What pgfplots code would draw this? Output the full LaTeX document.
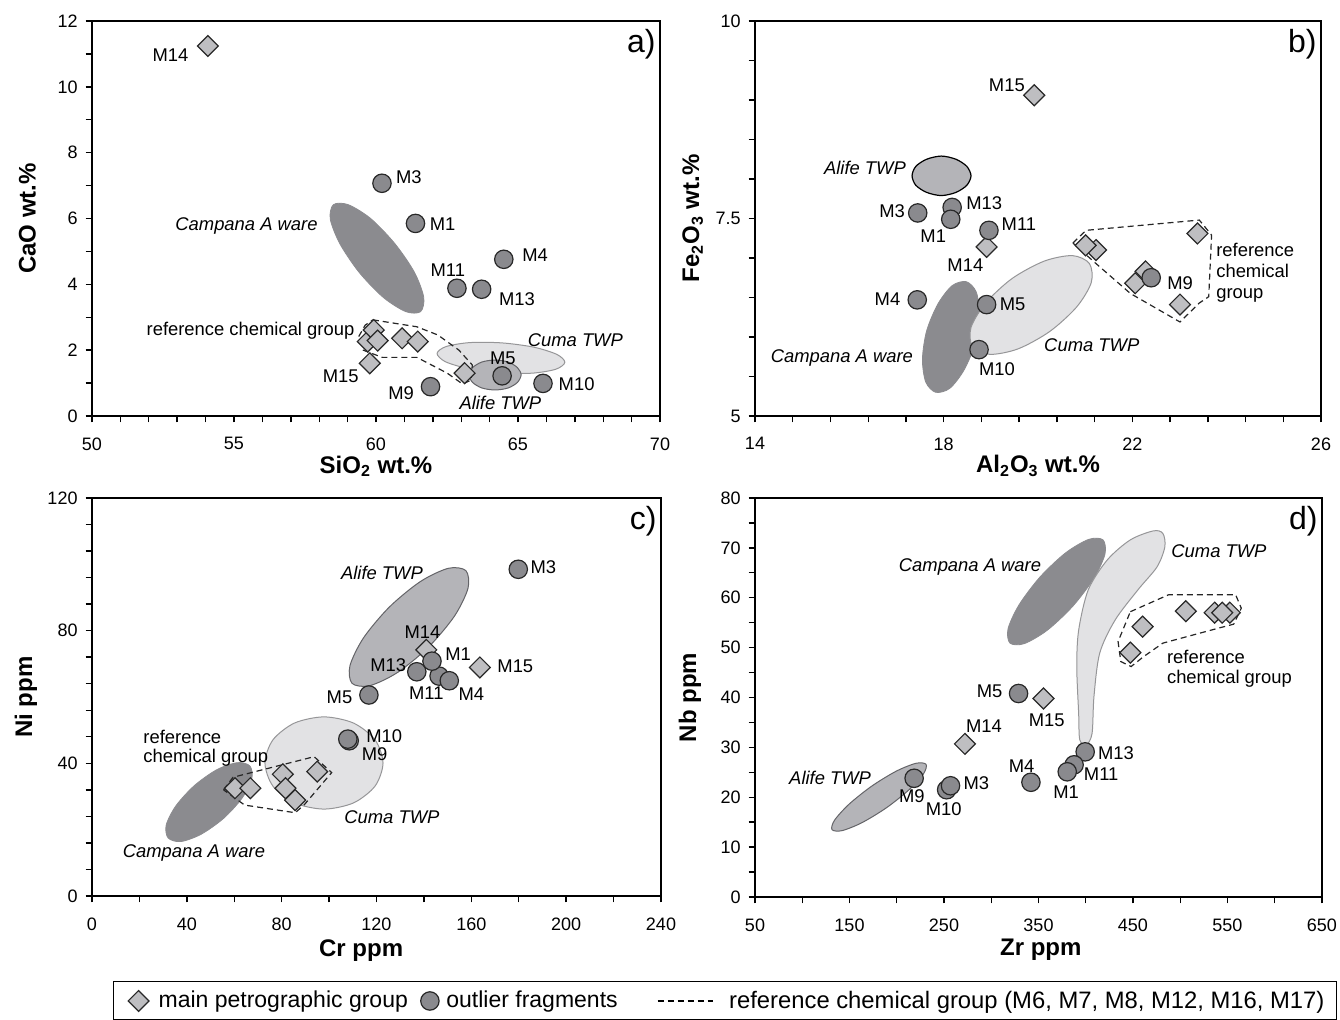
\documentclass[border=0pt]{standalone}
\usepackage{fontspec}
\setmainfont{Liberation Sans}
\usepackage{pgfplots}
\pgfplotsset{compat=1.18}
\definecolor{circfill}{RGB}{138,138,142}
\definecolor{diafill}{RGB}{190,190,193}
\definecolor{campana}{RGB}{139,139,143}
\definecolor{alife}{RGB}{180,180,184}
\definecolor{alifeedge}{RGB}{100,100,104}
\definecolor{cuma}{RGB}{226,226,228}
\definecolor{cumaedge}{RGB}{150,150,152}
\definecolor{edge}{RGB}{40,40,40}
\tikzset{
 lab/.style={font=\fontsize{9.2}{10.5}\selectfont, inner sep=1pt},
 ilab/.style={font=\itshape\fontsize{9.2}{10.5}\selectfont, inner sep=1pt},
 plab/.style={font=\fontsize{16}{18}\selectfont, inner sep=1pt},
}
\pgfplotsset{
 panel/.style={
   scale only axis,
   axis line style={line width=0.8pt},
   tick align=outside,
   tick pos=left,
   major tick length=3.2pt, minor tick length=3.2pt,
   every tick/.style={black, line width=0.7pt},
   ticklabel style={font=\fontsize{9}{11}\selectfont},
   xticklabel style={yshift=-4pt},
   yticklabel style={xshift=-0.5pt},
   /pgf/number format/assume math mode=true,
   label style={font=\bfseries\fontsize{12}{14}\selectfont},
 },
 dia/.style={only marks, mark=square*, mark size=3.7pt, mark options={rotate=45, fill=diafill, draw=edge, line width=0.6pt}, forget plot},
 circ/.style={only marks, mark=*, mark size=4.6pt, mark options={fill=circfill, draw=edge, line width=0.6pt}, forget plot},
 refgrp/.style={sharp plot, dash pattern=on 3pt off 2pt, line width=0.6pt, draw=black!85, forget plot},
 campanaS/.style={fill=campana, draw=campana, smooth cycle, forget plot},
 alifeS/.style={fill=alife, draw=alifeedge, line width=0.5pt, smooth cycle, forget plot},
 cumaS/.style={fill=cuma, draw=cumaedge, line width=0.5pt, smooth cycle, forget plot},
 legdia/.style={legend image code/.code={\path[draw=none,fill=none] (0pt,0pt) -- (16.5pt,0pt); \draw[##1] plot coordinates {(8.5pt,0pt)};}},
 legcirc/.style={legend image code/.code={\path[draw=none,fill=none] (0pt,0pt) -- (11.25pt,0pt); \draw[##1] plot coordinates {(5pt,0pt)};}},
 dashleg/.style={legend image code/.code={\path[draw=none,fill=none] (0pt,0pt) -- (47.75pt,0pt); \draw[##1] (14pt,0pt) -- (41.5pt,0pt);}},
}
\begin{document}
\begin{tikzpicture}
\useasboundingbox (0,0) rectangle (670pt,510pt);
% ---------------- a) ----------------
\begin{axis}[panel, at={(46pt,302pt)}, anchor=south west, width=284pt, height=197.5pt,
  xmin=50, xmax=70, xtick={50,55,...,70}, minor x tick num=4,
  ymin=0, ymax=12, ytick={0,2,...,12}, minor y tick num=1,
  xlabel={SiO\textsubscript{2} wt.\%}, ylabel={CaO wt.\%},
  xlabel style={at={(axis description cs:0.5,-0.127)}, anchor=center},
  ylabel style={at={(axis description cs:-0.114,0.5)}, anchor=center}]
\addplot[campanaS] coordinates {(61.57,3.17) (61.05,3.17) (60.26,3.60) (59.41,4.36) (58.73,5.23) (58.39,5.98) (58.50,6.42) (59.02,6.42) (59.81,6.00) (60.66,5.24) (61.35,4.37) (61.68,3.61)};
\addplot[cumaS] coordinates {(66.65,1.63) (66.33,1.42) (65.49,1.30) (64.36,1.31) (63.24,1.44) (62.44,1.65) (62.15,1.90) (62.47,2.11) (63.31,2.23) (64.44,2.22) (65.56,2.09) (66.37,1.87)};
\addplot[alifeS] coordinates {(65.11,1.25) (64.98,1.02) (64.65,0.85) (64.19,0.79) (63.73,0.85) (63.40,1.02) (63.27,1.25) (63.40,1.47) (63.73,1.64) (64.19,1.70) (64.65,1.64) (64.98,1.47)};
\addplot[refgrp] coordinates {(59.89,2.92) (61.44,2.71) (62.18,2.46) (62.92,2.00) (63.39,1.55) (63.35,1.09) (63.05,0.97) (62.51,1.30) (61.44,1.78) (60.22,1.78) (59.55,2.00) (59.39,2.41) (59.62,2.76) (59.89,2.92)};
\addplot[dia] coordinates {(54.08,11.24) (59.78,1.60) (59.71,2.26) (59.92,2.61) (60.06,2.29) (60.92,2.36) (61.47,2.26) (63.12,1.30)};
\addplot[circ] coordinates {(60.21,7.07) (61.39,5.85) (64.50,4.76) (62.85,3.88) (63.72,3.85) (64.44,1.22) (65.88,0.99) (61.92,0.89)};
\node[lab, anchor=east] at (axis cs:53.48,10.97) {M14};
\node[lab, anchor=west] at (axis cs:60.62,7.25) {M3};
\node[lab, anchor=west] at (axis cs:61.81,5.84) {M1};
\node[lab, anchor=west] at (axis cs:65.07,4.89) {M4};
\node[lab] at (axis cs:62.53,4.42) {M11};
\node[lab, anchor=west] at (axis cs:64.25,3.56) {M13};
\node[lab] at (axis cs:64.47,1.75) {M5};
\node[lab, anchor=west] at (axis cs:66.35,0.97) {M10};
\node[lab, anchor=east] at (axis cs:61.42,0.69) {M9};
\node[lab, anchor=east] at (axis cs:59.47,1.20) {M15};
\node[lab, anchor=east] at (axis cs:59.32,2.60) {reference chemical group};
\node[ilab] at (axis cs:55.44,5.76) {Campana A ware};
\node[ilab] at (axis cs:67.02,2.30) {Cuma TWP};
\node[ilab] at (axis cs:64.38,0.39) {Alife TWP};
\node[plab, anchor=north east] at (rel axis cs:1,1) [xshift=-1pt, yshift=-3pt] {a)};
\end{axis}
% ---------------- b) ----------------
\begin{axis}[panel, at={(377.5pt,302pt)}, anchor=south west, width=283pt, height=197.5pt,
  xmin=14, xmax=26, xtick={14,18,22,26}, minor x tick num=4,
  ymin=5, ymax=10, ytick={5,7.5,10}, minor y tick num=4,
  xlabel={Al\textsubscript{2}O\textsubscript{3} wt.\%}, ylabel={Fe\textsubscript{2}O\textsubscript{3} wt.\%},
  xlabel style={at={(axis description cs:0.5,-0.127)}, anchor=center},
  ylabel style={at={(axis description cs:-0.11,0.5)}, anchor=center}]
\addplot[campanaS] coordinates {(17.83,5.30) (18.13,5.35) (18.43,5.58) (18.67,5.92) (18.76,6.28) (18.69,6.57) (18.48,6.70) (18.18,6.65) (17.88,6.42) (17.64,6.08) (17.55,5.72) (17.62,5.43)};
\addplot[cumaS] coordinates {(21.09,6.93) (21.13,6.69) (20.82,6.38) (20.25,6.07) (19.58,5.85) (18.98,5.78) (18.61,5.88) (18.58,6.12) (18.89,6.43) (19.45,6.74) (20.13,6.96) (20.73,7.03)};
\addplot[fill=alife, draw=black, line width=0.6pt, smooth cycle, forget plot] coordinates {(18.58,8.04) (18.49,8.16) (18.26,8.25) (17.95,8.29) (17.64,8.25) (17.41,8.16) (17.33,8.04) (17.41,7.92) (17.64,7.83) (17.95,7.79) (18.26,7.83) (18.49,7.92)};
\addplot[refgrp] coordinates {(20.74,7.19) (21.02,7.35) (23.42,7.48) (23.68,7.29) (23.62,6.51) (23.42,6.43) (23.01,6.19) (21.96,6.55) (21.19,6.95) (20.74,7.19)};
\addplot[dia] coordinates {(19.92,9.06) (18.91,7.14) (21.23,7.10) (21.01,7.16) (22.28,6.83) (22.06,6.68) (23.01,6.41) (23.38,7.31)};
\addplot[circ] coordinates {(17.45,7.57) (18.18,7.64) (18.15,7.49) (18.96,7.35) (17.44,6.47) (18.91,6.41) (18.75,5.84) (22.40,6.75)};
\node[lab, anchor=east] at (axis cs:19.77,9.19) {M15};
\node[ilab, anchor=east] at (axis cs:17.25,8.14) {Alife TWP};
\node[lab, anchor=east] at (axis cs:17.23,7.59) {M3};
\node[lab, anchor=west] at (axis cs:18.43,7.70) {M13};
\node[lab, anchor=east] at (axis cs:18.10,7.28) {M1};
\node[lab, anchor=west] at (axis cs:19.18,7.43) {M11};
\node[lab] at (axis cs:18.46,6.91) {M14};
\node[lab, anchor=east] at (axis cs:17.13,6.48) {M4};
\node[lab, anchor=west] at (axis cs:19.14,6.41) {M5};
\node[ilab, anchor=east] at (axis cs:17.40,5.74) {Campana A ware};
\node[ilab] at (axis cs:21.14,5.90) {Cuma TWP};
\node[lab] at (axis cs:19.13,5.59) {M10};
\node[lab, anchor=west] at (axis cs:22.69,6.68) {M9};
\node[lab, anchor=west, align=left] at (axis cs:23.73,6.81) {reference\\chemical\\group};
\node[plab, anchor=north east] at (rel axis cs:1,1) [xshift=-1pt, yshift=-3pt] {b)};
\end{axis}
% ---------------- c) ----------------
\begin{axis}[panel, at={(46pt,62pt)}, anchor=south west, width=284.5pt, height=199pt,
  xmin=0, xmax=240, xtick={0,40,...,240}, minor x tick num=1,
  ymin=0, ymax=120, ytick={0,40,80,120}, minor y tick num=4,
  xlabel={Cr ppm}, ylabel={Ni ppm},
  xlabel style={at={(axis description cs:0.473,-0.136)}, anchor=center},
  ylabel style={at={(axis description cs:-0.116,0.5)}, anchor=center},
  legend columns=3,
  legend style={at={(axis description cs:0.0369,-0.2638)}, anchor=west, draw=black, line width=0.6pt,
    font=\fontsize{11.5}{13}\selectfont, inner xsep=4pt, inner ysep=2.5pt,
    /tikz/every even column/.append style={column sep=4pt}}]
\addplot[campanaS] coordinates {(66.6,39.2) (67.4,35.3) (63.3,29.5) (55.5,23.4) (46.0,18.6) (37.4,16.4) (32.1,17.5) (31.3,21.4) (35.4,27.2) (43.2,33.3) (52.7,38.1) (61.3,40.2)};
\addplot[cumaS] coordinates {(122.75,40.1) (119.41,47.05) (110.3,52.14) (97.85,54.0) (85.4,52.14) (76.29,47.05) (72.95,40.1) (76.29,33.15) (85.4,28.06) (97.85,26.2) (110.3,28.06) (119.41,33.15)};
\addplot[alifeS] coordinates {(157.7,98.1) (158.6,92.8) (152.9,84.4) (142.0,75.1) (128.9,67.4) (117.1,63.4) (109.7,64.1) (108.8,69.4) (114.5,77.8) (125.4,87.1) (138.5,94.8) (150.3,98.8)};
\addplot[refgrp] coordinates {(55.5,32.0) (59.5,35.8) (93.7,42.0) (101.1,37.2) (89.4,27.4) (85.7,25.1) (64.4,27.4) (55.5,32.0)};
\addplot[dia] coordinates {(141.0,74.2) (163.6,68.9) (60.3,32.5) (66.8,32.5) (85.7,28.9) (80.5,36.7) (81.6,32.5) (95.0,37.5)};
\addplot[circ] coordinates {(179.8,98.5) (146.4,66.3) (150.7,64.9) (137.0,67.6) (143.4,70.8) (116.8,60.6) (108.5,46.8) (107.9,47.3)};
\addlegendimage{only marks, mark=square*, mark size=3.7pt, mark options={rotate=45, fill=diafill, draw=edge, line width=0.6pt}, legdia}
\addlegendentry{main petrographic group}
\addlegendimage{only marks, mark=*, mark size=4.6pt, mark options={fill=circfill, draw=edge, line width=0.6pt}, legcirc}
\addlegendentry{outlier fragments}
\addlegendimage{dash pattern=on 3pt off 2pt, line width=0.6pt, black, dashleg}
\addlegendentry{\fontsize{11.9}{13}\selectfont reference chemical group (M6, M7, M8, M12, M16, M17)}
\node[ilab] at (axis cs:122.3,97.3) {Alife TWP};
\node[lab, anchor=west] at (axis cs:184.0,99.2) {M3};
\node[lab] at (axis cs:139.4,79.4) {M14};
\node[lab, anchor=west] at (axis cs:148.0,73.0) {M1};
\node[lab, anchor=east] at (axis cs:133.5,69.6) {M13};
\node[lab, anchor=west] at (axis cs:170.0,69.3) {M15};
\node[lab] at (axis cs:141.0,61.2) {M11};
\node[lab, anchor=west] at (axis cs:153.6,60.9) {M4};
\node[lab, anchor=east] at (axis cs:110.8,59.9) {M5};
\node[lab, anchor=west] at (axis cs:114.7,48.2) {M10};
\node[lab, anchor=west] at (axis cs:112.8,42.7) {M9};
\node[lab, anchor=west, align=left, font=\fontsize{9.2}{9.7}\selectfont] at (axis cs:20.7,44.6) {reference\\chemical group};
\node[ilab] at (axis cs:126.5,23.9) {Cuma TWP};
\node[ilab] at (axis cs:43.0,13.1) {Campana A ware};
\node[plab, anchor=north east] at (rel axis cs:1,1) [xshift=-1pt, yshift=-3pt] {c)};
\end{axis}
% ---------------- d) ----------------
\begin{axis}[panel, at={(377.5pt,61.5pt)}, anchor=south west, width=283.5pt, height=199.5pt,
  xmin=50, xmax=650, xtick={50,150,...,650}, minor x tick num=1,
  ymin=0, ymax=80, ytick={0,10,...,80}, minor y tick num=1,
  xlabel={Zr ppm}, ylabel={Nb ppm},
  xlabel style={at={(axis description cs:0.504,-0.133)}, anchor=center},
  ylabel style={at={(axis description cs:-0.115,0.5)}, anchor=center}]
\addplot[campanaS] coordinates {(418.3,71.6) (420.3,68.7) (408.6,63.9) (386.3,58.3) (359.4,53.5) (335.0,50.8) (319.8,50.9) (317.8,53.8) (329.5,58.6) (351.8,64.2) (378.7,69.0) (403.1,71.7)};
\addplot[cumaS, tension=0.5] coordinates {(481.6,72.9) (483.7,70.2) (475.5,66.2) (455.3,61.6) (431.0,55.5) (414.8,48.9) (408.7,40.2) (406.7,32.8) (400.6,30.5) (393.7,31.5) (392.5,36.8) (390.5,46.2) (392.5,53.5) (402.7,61.6) (422.9,67.6) (447.2,71.6) (471.5,73.4)};
\addplot[alifeS] coordinates {(231.0,26.6) (228.3,24.7) (213.0,21.5) (189.2,17.9) (163.2,14.9) (142.1,13.3) (131.5,13.5) (134.2,15.4) (149.5,18.6) (173.3,22.2) (199.2,25.2) (220.3,26.8)};
\addplot[refgrp] coordinates {(447.2,57.2) (487.7,60.6) (558.6,60.6) (564.6,57.9) (556.6,54.7) (540.4,53.9) (481.6,50.9) (461.3,48.2) (448.0,46.2) (437.1,47.2) (434.2,51.2) (447.2,57.2)};
\addplot[dia] coordinates {(355.3,39.8) (272.2,30.7) (447.2,49.0) (460.2,54.2) (505.9,57.3) (552.5,57.0) (536.4,57.0) (544.4,57.0)};
\addplot[circ] coordinates {(328.9,40.8) (399.4,29.1) (387.7,26.5) (380.4,25.1) (342.0,23.0) (218.4,23.8) (252.8,21.5) (256.9,22.3)};
\node[ilab] at (axis cs:277.5,66.2) {Campana A ware};
\node[ilab] at (axis cs:541,69.4) {Cuma TWP};
\node[lab, anchor=west, align=left, font=\fontsize{9.2}{9.7}\selectfont] at (axis cs:483.5,45.8) {reference\\chemical group};
\node[lab, anchor=east] at (axis cs:314.3,41.2) {M5};
\node[lab] at (axis cs:358.7,35.5) {M15};
\node[lab] at (axis cs:292.3,34.2) {M14};
\node[lab, anchor=west] at (axis cs:410.5,28.8) {M13};
\node[lab, anchor=west] at (axis cs:395.6,24.6) {M11};
\node[lab] at (axis cs:332.2,26.3) {M4};
\node[lab] at (axis cs:379.3,21.1) {M1};
\node[ilab] at (axis cs:129.5,23.8) {Alife TWP};
\node[lab] at (axis cs:216.0,20.3) {M9};
\node[lab, anchor=west] at (axis cs:268.2,22.9) {M3};
\node[lab] at (axis cs:249.7,17.6) {M10};
\node[plab, anchor=north east] at (rel axis cs:1,1) [xshift=-1pt, yshift=-3pt] {d)};
\end{axis}
\end{tikzpicture}
\end{document}
